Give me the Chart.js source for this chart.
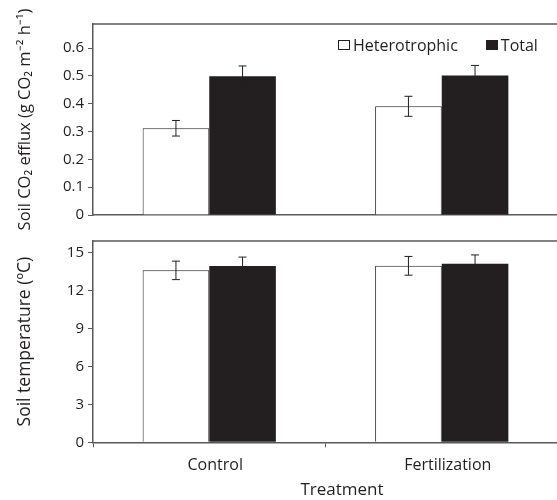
<!DOCTYPE html>
<html>
<head>
<meta charset="utf-8">
<script src="https://cdn.jsdelivr.net/npm/chart.js@4.4.1/dist/chart.umd.min.js"></script>
<style>
  html, body { margin: 0; padding: 0; overflow: hidden; background: #fff; }
  #top { position: absolute; left: 0; top: 0; width: 560px; height: 230px; }
  #bottom { position: absolute; left: 0; top: 228px; width: 560px; height: 272px; }
  #xtitle { position: absolute; top: 477px; left: 282px; width: 120px; text-align: center;
            font: 17px "Open Sans"; color: #231f20; }
  #legend { position: absolute; top: 34px; left: 338px; display: flex;
            font: 16px "Open Sans"; color: #231f20; white-space: nowrap; }
  #legend .item { display: flex; align-items: center; margin-right: 28px; }
  #legend .box { width: 10px; height: 8px; margin-right: 3px; border: 1px solid #231f20; }
</style>
</head>
<body>
<div id="top"><canvas id="efflux"></canvas></div>
<div id="bottom"><canvas id="temp"></canvas></div>
<div id="legend"></div>
<div id="xtitle">Treatment</div>
<script>
const treatments = ["Control", "Fertilization"];
const seriesNames = ["Heterotrophic", "Total"];

const effluxHetero = [0.312, 0.391];
const effluxHeteroErr = [0.028, 0.036];
const effluxTotal = [0.499, 0.502];
const effluxTotalErr = [0.037, 0.036];

const tempHetero = [13.58, 13.94];
const tempHeteroErr = [0.73, 0.74];
const tempTotal = [13.92, 14.10];
const tempTotalErr = [0.71, 0.70];

const effluxTicks = [0, 0.1, 0.2, 0.3, 0.4, 0.5, 0.6];
const tempTicks = [0, 3, 6, 9, 12, 15];

const ink = "#231f20";
const axisGray = "#58595b";

Chart.defaults.font.family = "'Open Sans'";
Chart.defaults.color = ink;

// whiskers on top of every bar
const errorBars = {
  id: "errorBars",
  afterDatasetsDraw(chart) {
    const ctx = chart.ctx;
    const y = chart.scales.y;
    ctx.save();
    ctx.strokeStyle = ink;
    ctx.lineWidth = 1;
    chart.data.datasets.forEach((ds, i) => {
      chart.getDatasetMeta(i).data.forEach((bar, j) => {
        const hi = y.getPixelForValue(ds.data[j] + ds.errors[j]);
        const lo = y.getPixelForValue(ds.data[j] - ds.errors[j]);
        ctx.beginPath();
        ctx.moveTo(bar.x, hi); ctx.lineTo(bar.x, lo);
        ctx.moveTo(bar.x - 4, hi); ctx.lineTo(bar.x + 4, hi);
        ctx.moveTo(bar.x - 4, lo); ctx.lineTo(bar.x + 4, lo);
        ctx.stroke();
      });
    });
    ctx.restore();
  }
};

// top edge of the panel box
const frameTop = {
  id: "frameTop",
  afterDraw(chart) {
    const a = chart.chartArea;
    const ctx = chart.ctx;
    ctx.save();
    ctx.strokeStyle = axisGray;
    ctx.lineWidth = 1.5;
    ctx.beginPath();
    ctx.moveTo(a.left, a.top);
    ctx.lineTo(a.right + 5, a.top);
    ctx.stroke();
    ctx.restore();
  }
};

function makePanel(canvasId, hetero, heteroErr, total, totalErr, yMax, yTicks, yTitle, titleSize, isTop) {
  return new Chart(document.getElementById(canvasId).getContext("2d"), {
    type: "bar",
    data: {
      labels: treatments,
      datasets: [
        { label: seriesNames[0], data: hetero, errors: heteroErr,
          backgroundColor: "#ffffff", borderColor: ink, borderWidth: 1 },
        { label: seriesNames[1], data: total, errors: totalErr,
          backgroundColor: ink, borderColor: ink, borderWidth: 0 }
      ]
    },
    options: {
      responsive: true,
      maintainAspectRatio: false,
      animation: false,
      layout: { padding: { top: isTop ? 24 : 13, right: 2, left: 0, bottom: 0 } },
      datasets: { bar: { categoryPercentage: 0.573, barPercentage: 1 } },
      plugins: {
        tooltip: { enabled: false },
        legend: { display: false }
      },
      scales: {
        x: {
          grid: { drawOnChartArea: false, drawTicks: !isTop, tickLength: 5, color: axisGray },
          border: { color: axisGray, width: 1.5 },
          ticks: { display: !isTop, font: { size: 16 }, padding: 9, labelOffset: 6, color: ink },
          afterFit: s => { s.height = isTop ? 15 : 57.7; }
        },
        y: {
          min: 0,
          max: yMax,
          grid: { drawOnChartArea: false, tickLength: 5, color: axisGray },
          border: { color: axisGray, width: 1.5 },
          ticks: {
            font: { size: 15 }, padding: 4, color: ink,
            callback: v => (v === 0 ? "0" : (isTop ? v.toFixed(1) : String(v)))
          },
          afterBuildTicks: s => { s.ticks = yTicks.map(v => ({ value: v })); },
          afterFit: s => { s.width = 93; },
          title: { display: true, text: yTitle, font: { size: titleSize }, padding: { top: 15, bottom: 0 }, color: ink }
        }
      }
    },
    plugins: [errorBars, frameTop]
  });
}

const effluxChart = makePanel("efflux", effluxHetero, effluxHeteroErr, effluxTotal, effluxTotalErr,
  0.687, effluxTicks, "Soil CO\u2082 efflux (g CO\u2082 m\u207B\u00B2 h\u207B\u00B9)", 16.5, true);
makePanel("temp", tempHetero, tempHeteroErr, tempTotal, tempTotalErr,
  15.9, tempTicks, "Soil temperature (\u00BAC)", 17.5, false);

// legend sits inside the upper panel, built from the chart's own legend items
const legendBox = document.getElementById("legend");
Chart.defaults.plugins.legend.labels.generateLabels(effluxChart).forEach(item => {
  const el = document.createElement("span");
  el.className = "item";
  const box = document.createElement("span");
  box.className = "box";
  box.style.background = item.fillStyle;
  el.appendChild(box);
  el.appendChild(document.createTextNode(item.text));
  legendBox.appendChild(el);
});
</script>
</body>
</html>
